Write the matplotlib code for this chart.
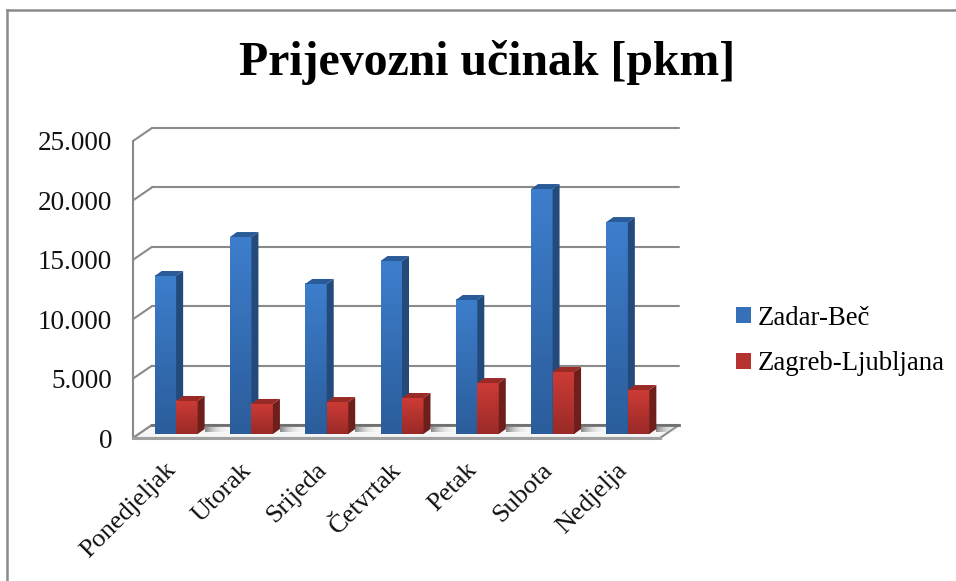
import matplotlib
matplotlib.use("Agg")
import matplotlib.pyplot as plt
import numpy as np
from matplotlib.colors import LinearSegmentedColormap
from matplotlib.lines import Line2D
from matplotlib.patches import Patch, Polygon
from matplotlib.transforms import ScaledTranslation

# Values
days = ["Ponedjeljak", "Utorak", "Srijeda", "Četvrtak", "Petak", "Subota", "Nedjelja"]
zadar_bec = [13300, 16580, 12630, 14560, 11280, 20620, 17840]
zagreb_ljubljana = [2780, 2530, 2690, 3030, 4290, 5220, 3700]
y_ticks = [0, 5000, 10000, 15000, 20000, 25000]

W, H = 956, 581
GRID = "#8a8a8a"
plt.rcParams["font.family"] = ["Liberation Serif", "DejaVu Serif"]

fig = plt.figure(figsize=(W / 100, H / 100), dpi=100)
ax = fig.add_axes([133 / W, 1 - 438 / H, 527 / W, 297 / H])
ax.set_xlim(-0.5, 6.5)
ax.set_ylim(0, 25000)
for s in ax.spines.values():
    s.set_visible(False)
ax.patch.set_visible(False)

# pixel sizes expressed in data units
ux = 7 / 527
uy = 25000 / 297
px = lambda n: n * ux
py = lambda n: n * uy

back_x, back_y = px(19), py(13)
bar_x, bar_y = px(5.5), py(4)
bar_w = px(21.5)
dep_x, dep_y = px(7), py(5)

line_kw = dict(color=GRID, lw=1.5, clip_on=False, solid_capstyle="round")

# walls and gridlines
x0, x1 = -0.5, 6.5
ax.plot([x0, x0], [0, 25000], zorder=1, **line_kw)
for v in y_ticks:
    ax.plot([x0, x0 + back_x], [v, v + back_y], zorder=1, **line_kw)
    if v > 0:
        ax.plot([x0 + back_x, x1 + back_x], [v + back_y, v + back_y], zorder=1, **line_kw)

# floor
floor = Polygon([(x0, 0), (x1, 0), (x1 + back_x, back_y), (x0 + back_x, back_y)],
                closed=True, fc="#f6f6f6", ec=GRID, lw=1.5, clip_on=False, zorder=1.5)
ax.add_patch(floor)
ax.plot([x0, x1], [0, 0], color="#a0a0a0", lw=2.2, clip_on=False, zorder=1.6)
ax.plot([x0 + back_x, x1 + back_x], [back_y, back_y], color="#6f6f6f", lw=2, clip_on=False, zorder=1.6)

blue_cmap = LinearSegmentedColormap.from_list("b", ["#2b5d9b", "#3d7ecc"])
red_cmap = LinearSegmentedColormap.from_list("r", ["#9a2a27", "#cd3b36"])
shadow_cmap = LinearSegmentedColormap.from_list(
    "s", [(0.35, 0.35, 0.35, 0.7), (0.65, 0.65, 0.65, 0.25), (1, 1, 1, 0)])


def draw_bar(left, value, cmap, side, top, z):
    l = left + bar_x
    b = bar_y
    t = value + bar_y
    r = l + bar_w
    grad = np.linspace(1, 0, 64).reshape(-1, 1)
    ax.imshow(grad, cmap=cmap, extent=[l, r, b, t], aspect="auto", vmin=0, vmax=1,
              zorder=z, clip_on=False)
    ax.add_patch(Polygon([(r, b), (r + dep_x, b + dep_y), (r + dep_x, t + dep_y), (r, t)],
                         closed=True, fc=side, ec="none", zorder=z, clip_on=False))
    ax.add_patch(Polygon([(l, t), (r, t), (r + dep_x, t + dep_y), (l + dep_x, t + dep_y)],
                         closed=True, fc=top, ec="none", zorder=z, clip_on=False))


for i, (a, b) in enumerate(zip(zadar_bec, zagreb_ljubljana)):
    # soft shadow lying on the floor behind the red bar
    sx = i + bar_w + dep_x + bar_x
    ax.imshow(np.linspace(0, 1, 64).reshape(1, -1), cmap=shadow_cmap,
              extent=[sx, sx + px(26), bar_y + py(1.5), bar_y + py(6)], aspect="auto",
              zorder=1.8, clip_on=False)
    draw_bar(i - bar_w, a, blue_cmap, "#234a7b", "#2a5b99", 3 + i * 0.1)
    draw_bar(i, b, red_cmap, "#6e1f1c", "#992a26", 3.05 + i * 0.1)

ax.set_xlim(x0, x1)
ax.set_ylim(0, 25000)

ax.set_yticks(y_ticks)
ax.set_yticklabels([f"{v:,}".replace(",", ".") for v in y_ticks], fontsize=19.5, color="#111111")
ax.tick_params(axis="y", length=0, pad=15)
ax.set_xticks(range(len(days)))
ax.set_xticklabels(days, fontsize=19, rotation=45, ha="right", rotation_mode="anchor",
                   color="#111111")
ax.tick_params(axis="x", length=0, pad=15)
shift = ScaledTranslation(-4.5 / 72, 0, fig.dpi_scale_trans)
for lab in ax.get_xticklabels():
    lab.set_transform(lab.get_transform() + shift)

fig.text(487 / W, 1 - 75 / H, "Prijevozni učinak [pkm]", fontsize=34.4, fontweight="bold",
         ha="center", va="baseline", color="black")

handles = [Patch(fc="#3570b8", ec="none"), Patch(fc="#b5322e", ec="none")]
fig.legend(handles, ["Zadar-Beč", "Zagreb-Ljubljana"], frameon=False, fontsize=19.3,
           loc="center left", bbox_to_anchor=(736 / W, 1 - 341 / H), borderpad=0, borderaxespad=0,
           handlelength=0.55, handleheight=0.55, handletextpad=0.25, labelspacing=0.77)

# chart frame, only top and left edges fall inside the crop
fig.add_artist(Line2D([7 / W, 7 / W], [0, 1 - 10 / H], color=GRID, lw=1.8))
fig.add_artist(Line2D([7 / W, 1], [1 - 10 / H, 1 - 10 / H], color=GRID, lw=1.8))

fig.savefig("out.png", dpi=100)
